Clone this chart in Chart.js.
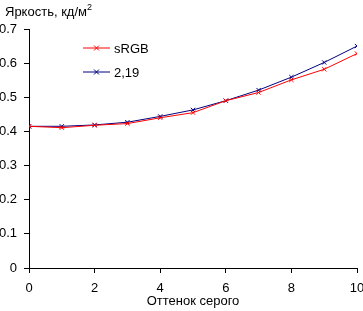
<!DOCTYPE html>
<html>
<head>
<meta charset="utf-8">
<script src="https://cdn.jsdelivr.net/npm/chart.js@4"></script>
<style>
  html, body { margin: 0; padding: 0; background: #fff; }
  #wrap { width: 363px; height: 311px; position: relative; }
</style>
</head>
<body>
<div id="wrap"><canvas id="chart"></canvas></div>
<script>
// gray level steps and measured luminance
var shades = [0, 1, 2, 3, 4, 5, 6, 7, 8, 9, 10];
var srgb = [0.415, 0.411, 0.418, 0.423, 0.440, 0.455, 0.490, 0.514, 0.551, 0.582, 0.628];
var gamma219 = [0.415, 0.415, 0.419, 0.427, 0.444, 0.463, 0.490, 0.521, 0.559, 0.602, 0.650];
var seriesNames = ['sRGB', '2,19'];
var seriesColors = ['#ff0000', '#000080'];

var FONT = '"Liberation Sans", Arial, sans-serif';

function toPoints(vals) {
  return vals.map(function (v, i) { return { x: shades[i], y: v }; });
}

// title top-left + legend inside the plot
var decor = {
  id: 'decor',
  afterDraw: function (chart) {
    var c = chart.ctx;
    c.save();
    c.fillStyle = '#000';
    c.font = '13px ' + FONT;
    c.textBaseline = 'alphabetic';
    c.fillText('Яркость, кд/м', 5, 16);
    var w = c.measureText('Яркость, кд/м').width;
    c.font = '9px ' + FONT;
    c.fillText('2', 5 + w, 10);

    c.font = '13px ' + FONT;
    c.textBaseline = 'middle';
    for (var i = 0; i < seriesNames.length; i++) {
      var y = 48 + i * 24;
      c.strokeStyle = seriesColors[i];
      c.lineWidth = 1;
      c.beginPath();
      c.moveTo(83, y); c.lineTo(110, y); c.stroke();
      c.beginPath();
      c.moveTo(94, y - 2.5); c.lineTo(99, y + 2.5);
      c.moveTo(94, y + 2.5); c.lineTo(99, y - 2.5);
      c.stroke();
      c.fillStyle = '#000';
      c.fillText(seriesNames[i], 114, y + 1);
    }
    c.restore();
  }
};

var ctx = document.getElementById('chart').getContext('2d');
var chart = new Chart(ctx, {
  type: 'line',
  data: {
    datasets: [{
      label: seriesNames[0],
      data: toPoints(srgb),
      borderColor: seriesColors[0],
      backgroundColor: seriesColors[0],
      borderWidth: 1,
      pointStyle: 'crossRot',
      pointRadius: 3,
      pointBorderWidth: 1,
      tension: 0
    }, {
      label: seriesNames[1],
      data: toPoints(gamma219),
      borderColor: seriesColors[1],
      backgroundColor: seriesColors[1],
      borderWidth: 1,
      pointStyle: 'crossRot',
      pointRadius: 3,
      pointBorderWidth: 1,
      tension: 0
    }]
  },
  options: {
    responsive: true,
    maintainAspectRatio: false,
    animation: false,
    layout: { padding: { top: 29, right: 6, left: 0, bottom: 0 } },
    scales: {
      x: {
        type: 'linear',
        min: 0,
        max: 10,
        afterFit: function (s) { s.height = 43; s.paddingLeft = 0; s.paddingRight = 0; },
        ticks: { stepSize: 2, color: '#000', font: { family: FONT, size: 13 }, padding: 8, maxRotation: 0 },
        grid: { drawOnChartArea: false, drawTicks: true, tickLength: 5, color: '#000' },
        border: { color: '#000', width: 1 },
        title: { display: true, text: 'Оттенок серого', color: '#000', font: { family: FONT, size: 13 }, padding: { top: 0, bottom: 2 } }
      },
      y: {
        min: 0,
        max: 0.7,
        afterFit: function (s) { s.width = 29; s.paddingTop = 0; s.paddingBottom = 0; },
        ticks: {
          stepSize: 0.1,
          color: '#000',
          font: { family: FONT, size: 13 },
          padding: 7,
          callback: function (v) { return v === 0 ? '0' : v.toFixed(1); }
        },
        grid: { drawOnChartArea: false, drawTicks: true, tickLength: 5, color: '#000' },
        border: { color: '#000', width: 1 }
      }
    },
    plugins: {
      legend: { display: false },
      tooltip: { enabled: false }
    }
  },
  plugins: [decor]
});
</script>
</body>
</html>
